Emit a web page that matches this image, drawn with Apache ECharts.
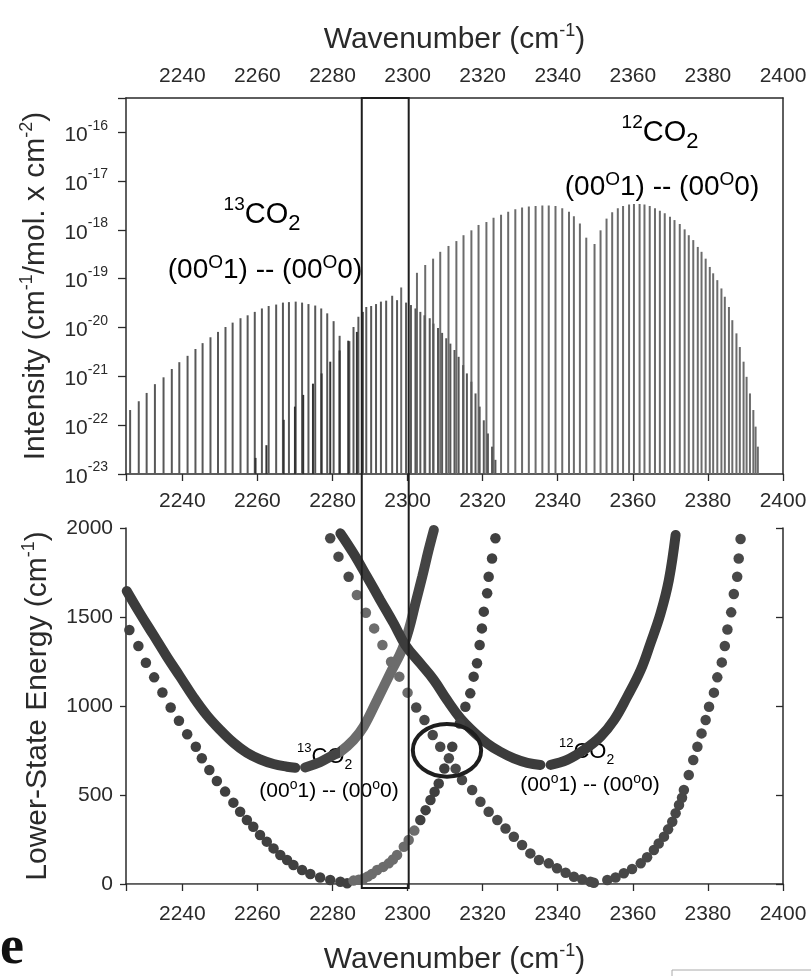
<!DOCTYPE html>
<html>
<head>
<meta charset="utf-8">
<script src="https://cdn.jsdelivr.net/npm/echarts@6/dist/echarts.min.js"></script>
<style>
html, body { margin: 0; padding: 0; background: #fff; }
#chart { width: 811px; height: 976px; }
</style>
</head>
<body>
<div id="chart"></div>
<script>
// 13CO2 谱线 (cm-1) 与 log10 强度
var co13Wn = [2226.1, 2228.4, 2230.5, 2232.7, 2235.0, 2237.2, 2239.2, 2241.4, 2243.5, 2245.4, 2247.5, 2249.5, 2251.5, 2253.4, 2255.5, 2257.4, 2259.3, 2261.2, 2263.0, 2265.0, 2266.8, 2268.4, 2270.2, 2271.9, 2273.6, 2275.4, 2277.0, 2278.6, 2280.3, 2281.9,
	2284.5, 2285.6, 2286.9, 2288.1, 2289.0, 2290.3, 2291.6, 2292.9, 2294.3, 2295.9, 2297.2, 2299.6, 2300.9, 2302.1, 2303.4, 2304.5, 2305.9, 2306.9, 2308.1, 2309.2, 2310.3, 2311.4, 2312.5, 2313.6, 2314.8, 2315.8, 2317.0, 2318.1, 2319.2, 2320.3, 2321.4, 2322.5, 2323.4];
var co13Log = [-21.69, -21.51, -21.34, -21.16, -21.02, -20.85, -20.71, -20.58, -20.44, -20.32, -20.20, -20.09, -19.99, -19.90, -19.81, -19.75, -19.68, -19.61, -19.56, -19.53, -19.49, -19.48, -19.47, -19.49, -19.52, -19.55, -19.61, -19.71, -19.87, -20.17,
	-20.28, -19.99, -19.78, -19.68, -19.58, -19.56, -19.52, -19.47, -19.45, -19.35, -19.44, -19.49, -19.54, -19.61, -19.68, -19.75, -19.81, -19.92, -20.01, -20.11, -20.22, -20.33, -20.46, -20.60, -20.77, -20.94, -21.11, -21.35, -21.62, -21.90, -22.17, -22.44, -22.71];

// 弱线 (热带)
var hotWn = [2259.5, 2262.4, 2267.0, 2270.0, 2272.2, 2274.8, 2277.1, 2279.4, 2281.9, 2284.2, 2286.5];
var hotLog = [-22.67, -22.41, -21.89, -21.62, -21.38, -21.15, -20.94, -20.70, -20.47, -20.27, -20.09];

// 12CO2 谱线
var co12Wn = [2298.3, 2302.5, 2304.7, 2306.8, 2308.7, 2310.9, 2313.0, 2314.9, 2317.0, 2318.9, 2321.0, 2322.9, 2324.9, 2326.8, 2328.7, 2330.5, 2332.3, 2334.1, 2335.9, 2337.6, 2339.4, 2341.2, 2343.0, 2344.3, 2345.9, 2347.6,
	2349.8, 2351.4, 2353.0, 2354.5, 2356.0, 2357.4, 2359.0, 2360.3, 2361.8, 2363.1, 2364.5, 2365.9, 2367.2, 2368.5, 2369.9, 2371.1, 2372.5, 2373.8, 2374.9, 2376.1, 2377.3, 2378.3, 2379.4, 2380.5, 2381.4, 2382.5, 2383.6, 2384.5, 2385.6, 2386.5, 2387.6, 2388.5, 2389.5, 2390.3, 2391.2, 2392.1, 2392.7, 2393.3];
var co12Log = [-19.18, -18.88, -18.72, -18.59, -18.45, -18.33, -18.23, -18.11, -18.01, -17.90, -17.84, -17.75, -17.69, -17.63, -17.58, -17.54, -17.52, -17.51, -17.50, -17.50, -17.51, -17.56, -17.63, -17.72, -17.87, -18.16,
	-18.29, -18.01, -17.77, -17.64, -17.56, -17.51, -17.48, -17.47, -17.47, -17.48, -17.51, -17.56, -17.61, -17.66, -17.73, -17.80, -17.88, -17.99, -18.11, -18.21, -18.35, -18.45, -18.59, -18.76, -18.89, -19.03, -19.20, -19.37, -19.58, -19.85, -20.12, -20.40, -20.70, -21.01, -21.35, -21.69, -22.03, -22.44];

// 下能级能量 (cm-1)
var co13HotPWn = [2225.2, 2228.7, 2232.3, 2235.9, 2239.4, 2242.9, 2246.5, 2250.1, 2253.6, 2257.2, 2260.7, 2264.3, 2267.9, 2270.1];
var co13HotPE = [1646, 1521, 1399, 1277, 1165, 1052, 949, 865, 794, 737, 700, 674, 659, 653];
var co13HotRWn = [2272.7, 2276.7, 2280.3, 2282.1, 2285.6, 2288.3, 2291.9, 2295.4, 2298.5, 2300.3, 2302.1, 2303.9, 2305.6, 2307.0];
var co13HotRE = [655, 685, 725, 743, 809, 884, 1034, 1184, 1315, 1427, 1577, 1726, 1876, 1989];
var co12HotPWn = [2282.1, 2285.6, 2289.2, 2292.7, 2296.3, 2299.4, 2303.4, 2307.0, 2310.5, 2314.1, 2317.6, 2321.2, 2324.7, 2328.3, 2331.9, 2335.4];
var co12HotPE = [1970, 1857, 1726, 1596, 1464, 1343, 1239, 1146, 1034, 930, 855, 790, 743, 706, 681, 669];
var co12HotRWn = [2338.1, 2342.5, 2347.0, 2351.4, 2355.0, 2358.5, 2362.1, 2364.7, 2367.4, 2369.6, 2371.4];
var co12HotRE = [669, 697, 753, 828, 921, 1052, 1202, 1352, 1521, 1708, 1961];

var co13FundWn = [2225.9, 2228.3, 2230.3, 2232.5, 2234.7, 2236.9, 2239.1, 2241.3, 2243.6, 2245.2, 2247.2, 2249.2, 2251.4, 2253.6, 2255.4, 2257.2, 2258.9, 2260.7, 2262.5, 2264.3, 2266.1, 2267.9, 2269.6, 2271.9, 2274.1, 2276.7, 2279.4, 2282.1,
	2283.9, 2285.6, 2287.0, 2288.3, 2289.4, 2290.5, 2291.9, 2293.5, 2295.0, 2296.1, 2297.2, 2299.0, 2300.3, 2301.8, 2303.4, 2304.8, 2306.1, 2307.2, 2308.3, 2309.8, 2311.9, 2313.9, 2315.4, 2316.7, 2317.6, 2318.5, 2319.2, 2319.8, 2320.3, 2321.2, 2321.6, 2322.5, 2323.4];
var co13FundE = [1427, 1337, 1243, 1161, 1076, 992, 917, 841, 771, 706, 640, 579, 519, 457, 406, 360, 322, 275, 238, 200, 163, 135, 107, 79, 56, 37, 22, 13,
	4, 19, 24, 31, 42, 56, 79, 96, 116, 138, 163, 209, 247, 300, 360, 415, 472, 518, 565, 649, 771, 902, 996, 1071, 1165, 1240, 1343, 1436, 1530, 1633, 1726, 1829, 1942];
var co12FundWn = [2279.4, 2281.6, 2284.3, 2286.5, 2288.9, 2291.1, 2293.3, 2295.6, 2297.8, 2300.0, 2302.3, 2304.5, 2306.7, 2308.7, 2311.0, 2312.8, 2314.5, 2317.2, 2319.4, 2321.6, 2323.9, 2326.1, 2328.3, 2330.5, 2332.7, 2335.0, 2337.6, 2339.8, 2342.1, 2344.3, 2346.5, 2348.7,
	2349.6, 2353.2, 2355.4, 2357.6, 2359.8, 2362.1, 2363.8, 2365.6, 2366.9, 2368.3, 2369.4, 2370.5, 2371.4, 2372.3, 2373.1, 2373.6, 2374.9, 2376.1, 2377.2, 2378.3, 2379.4, 2380.3, 2381.6, 2382.5, 2383.7, 2384.5, 2385.2, 2386.2, 2386.9, 2387.8, 2388.2, 2388.7];
var co12FundE = [1942, 1839, 1726, 1624, 1524, 1436, 1343, 1249, 1165, 1075, 992, 921, 837, 771, 706, 648, 584, 528, 462, 406, 360, 312, 265, 219, 172, 135, 116, 88, 63, 41, 26, 13,
	7, 22, 37, 60, 84, 116, 150, 191, 228, 266, 307, 350, 397, 444, 485, 528, 612, 697, 771, 846, 921, 996, 1075, 1161, 1245, 1337, 1430, 1526, 1629, 1726, 1829, 1938];

// 标注: 椭圆与竖框
var ellipseCenter = [2310.5, 751];
var ellipseRadius = [9.1, 148];
var boxWn = [2287.8, 2300.3];

var chart = echarts.init(document.getElementById('chart'));
var font = 'Liberation Sans';
var ink = '#2a2a2a';
var dark = '#3c3c3c';
var pale = '#6c6c6c';

function pairs(xs, ys) {
	var out = [];
	for (var i = 0; i < xs.length; i++) {
		out.push([xs[i], ys[i]]);
	}
	return out;
}

// 竖线谱
function stickItem(params, api) {
	var top = api.coord([api.value(0), api.value(1)]);
	var base = api.coord([api.value(0), -23]);
	return {
		type: 'line',
		shape: { x1: top[0], y1: base[1], x2: top[0], y2: top[1] },
		style: { stroke: api.visual('color'), lineWidth: 2 }
	};
}

function ellipseItem(params, api) {
	var c = api.coord([api.value(0), api.value(1)]);
	var s = api.size([api.value(2), api.value(3)]);
	return {
		type: 'ellipse',
		shape: { cx: c[0], cy: c[1], rx: s[0], ry: s[1] },
		style: { fill: 'none', stroke: '#1e1e1e', lineWidth: 4 }
	};
}

function wnLabel(v) {
	return v % 20 === 0 ? String(v) : '';
}

// 框内一段颜色较浅
function paleBand(seriesIndex, from, to, base) {
	return {
		type: 'piecewise', show: false, seriesIndex: seriesIndex, dimension: 0,
		pieces: [
			{ lt: from, color: base },
			{ gte: from, lt: to, color: pale },
			{ gte: to, color: base }
		]
	};
}

var supStyle = { fontFamily: font, fontSize: 18, color: ink, verticalAlign: 'top', lineHeight: 17 };
var titleStyle = { fontFamily: font, fontSize: 30, color: ink, lineHeight: 36 };

function wnAxis(grid, pos, labels, extra) {
	var a = {
		type: 'value', gridIndex: grid, position: pos, min: 2225, max: 2400,
		minInterval: 20, maxInterval: 20,
		splitLine: { show: false },
		axisLine: { lineStyle: { color: ink, width: 1.5 } },
		axisTick: { show: labels, length: 7, lineStyle: { color: ink, width: 1.3 } },
		axisLabel: { show: labels, fontFamily: font, fontSize: 21, color: ink, margin: 17, formatter: wnLabel }
	};
	for (var k in extra) a[k] = extra[k];
	return a;
}

var option = {
	animation: false,
	backgroundColor: '#fff',
	grid: [
		{ left: 126, top: 98, width: 657, height: 376 },
		{ left: 126, top: 528, width: 657, height: 356 }
	],
	visualMap: [
		paleBand(4, 2282, 2300, '#444'),
		paleBand(7, 2285, 2302, '#404040'),
		paleBand(8, 2285, 2301, '#484848')
	],
	xAxis: [
		wnAxis(0, 'bottom', true, {}),
		wnAxis(0, 'top', true, {
			axisTick: { show: false },
			axisLabel: { fontFamily: font, fontSize: 21, color: ink, margin: 11, formatter: wnLabel },
			name: '{t|Wavenumber (cm}{s|-1}{t|)}', nameLocation: 'middle', nameGap: 40,
			nameTextStyle: { rich: { t: titleStyle, s: supStyle } }
		}),
		wnAxis(1, 'bottom', true, {
			axisLabel: { fontFamily: font, fontSize: 21, color: ink, margin: 20, formatter: wnLabel },
			name: '{t|Wavenumber (cm}{s|-1}{t|)}', nameLocation: 'middle', nameGap: 58,
			nameTextStyle: { rich: { t: titleStyle, s: supStyle } }
		}),
		wnAxis(1, 'top', false, { axisLine: { lineStyle: { color: '#777', width: 1.2 } } })
	],
	yAxis: [
		{
			type: 'value', gridIndex: 0, position: 'left', min: -23, max: -15.3, interval: 1,
			splitLine: { show: false },
			axisLine: { lineStyle: { color: ink, width: 1.5 } },
			axisTick: { length: 8, lineStyle: { color: ink, width: 1.3 } },
			axisLabel: {
				margin: 18, fontFamily: font,
				formatter: function(v) {
					return v % 1 === 0 ? '{b|10}{s|' + v + '}' : '';
				},
				rich: {
					b: { fontFamily: font, fontSize: 21, color: ink, lineHeight: 27, verticalAlign: 'bottom' },
					s: { fontFamily: font, fontSize: 14, color: ink, lineHeight: 14, verticalAlign: 'top' }
				}
			},
			name: '{t|Intensity (cm}{s|-1}{t|/mol. x cm}{s|-2}{t|)}', nameLocation: 'middle', nameRotate: 90, nameGap: 72,
			nameTextStyle: { rich: { t: titleStyle, s: supStyle } }
		},
		{
			type: 'value', gridIndex: 0, position: 'right', min: -23, max: -15.3,
			splitLine: { show: false }, axisTick: { show: false }, axisLabel: { show: false },
			axisLine: { lineStyle: { color: ink, width: 1.5 } }
		},
		{
			type: 'value', gridIndex: 1, position: 'left', min: 0, max: 2000, interval: 500,
			splitLine: { show: false },
			axisLine: { lineStyle: { color: ink, width: 1.5 } },
			axisTick: { length: 6, lineStyle: { color: ink, width: 1.3 } },
			axisLabel: { margin: 13, fontFamily: font, fontSize: 21, color: ink, formatter: function(v) { return String(v); } },
			name: '{t|Lower-State Energy (cm}{s|-1}{t|)}', nameLocation: 'middle', nameRotate: 90, nameGap: 70,
			nameTextStyle: { rich: { t: titleStyle, s: supStyle } }
		},
		{
			type: 'value', gridIndex: 1, position: 'right', min: 0, max: 2000, interval: 500,
			splitLine: { show: false }, axisLabel: { show: false },
			axisLine: { lineStyle: { color: ink, width: 1.5 } },
			axisTick: { inside: true, length: 7, lineStyle: { color: ink, width: 1.3 } }
		}
	],
	series: [
		{ type: 'custom', name: '12CO2', xAxisIndex: 0, yAxisIndex: 0, renderItem: stickItem, clip: true,
			itemStyle: { color: '#6c6c6c' }, data: pairs(co12Wn, co12Log) },
		{ type: 'custom', name: '13CO2', xAxisIndex: 0, yAxisIndex: 0, renderItem: stickItem, clip: true,
			itemStyle: { color: '#585858' }, data: pairs(co13Wn, co13Log) },
		{ type: 'custom', name: 'hot', xAxisIndex: 0, yAxisIndex: 0, renderItem: stickItem, clip: true,
			itemStyle: { color: '#333' }, data: pairs(hotWn, hotLog) },

		{ type: 'line', xAxisIndex: 2, yAxisIndex: 2, smooth: 0.4, showSymbol: false, z: 3,
			lineStyle: { width: 10, color: dark, cap: 'round' }, data: pairs(co13HotPWn, co13HotPE) },
		{ type: 'line', xAxisIndex: 2, yAxisIndex: 2, smooth: 0.4, showSymbol: false, z: 3,
			lineStyle: { width: 10, cap: 'round' }, data: pairs(co13HotRWn, co13HotRE) },
		{ type: 'line', xAxisIndex: 2, yAxisIndex: 2, smooth: 0.4, showSymbol: false, z: 3,
			lineStyle: { width: 10, color: dark, cap: 'round' }, data: pairs(co12HotPWn, co12HotPE) },
		{ type: 'line', xAxisIndex: 2, yAxisIndex: 2, smooth: 0.4, showSymbol: false, z: 3,
			lineStyle: { width: 10, color: dark, cap: 'round' }, data: pairs(co12HotRWn, co12HotRE) },
		{ type: 'scatter', xAxisIndex: 2, yAxisIndex: 2, symbolSize: 10.5, z: 4,
			itemStyle: { opacity: 1 }, data: pairs(co13FundWn, co13FundE) },
		{ type: 'scatter', xAxisIndex: 2, yAxisIndex: 2, symbolSize: 10.5, z: 4,
			itemStyle: { opacity: 1 }, data: pairs(co12FundWn, co12FundE) },
		{ type: 'custom', xAxisIndex: 2, yAxisIndex: 2, renderItem: ellipseItem, z: 5,
			data: [[ellipseCenter[0], ellipseCenter[1], ellipseRadius[0], ellipseRadius[1]]] }
	]
};
chart.setOption(option);

// 竖框跨越两个坐标系
var bx0 = chart.convertToPixel({ xAxisIndex: 0 }, boxWn[0]);
var bx1 = chart.convertToPixel({ xAxisIndex: 0 }, boxWn[1]);
var by0 = chart.convertToPixel({ yAxisIndex: 0 }, -15.3);
var by1 = chart.convertToPixel({ yAxisIndex: 2 }, -22);

var bandRich = {
	b: { fontFamily: font, fontSize: 28, color: ink, lineHeight: 34 },
	o: { fontFamily: font, fontSize: 19, color: ink, lineHeight: 19, verticalAlign: 'top' }
};
var smallRich = {
	b: { fontFamily: font, fontSize: 21, color: ink, lineHeight: 26 },
	o: { fontFamily: font, fontSize: 14, color: ink, lineHeight: 14, verticalAlign: 'top' }
};
var isoRich = {
	s: { fontFamily: font, fontSize: 19, color: ink, lineHeight: 18, verticalAlign: 'top' },
	b: { fontFamily: font, fontSize: 29, color: ink, lineHeight: 40 },
	d: { fontFamily: font, fontSize: 22, color: ink, lineHeight: 24, verticalAlign: 'bottom' }
};
var isoSmallRich = {
	s: { fontFamily: font, fontSize: 13, color: ink, lineHeight: 13, verticalAlign: 'top' },
	b: { fontFamily: font, fontSize: 22, color: ink, lineHeight: 30 },
	d: { fontFamily: font, fontSize: 14, color: ink, lineHeight: 15, verticalAlign: 'bottom' }
};
var bandText = '{b|(00}{o|O}{b|1) -- (00}{o|O}{b|0)}';
var bandSmall = '{b|(00}{o|o}{b|1) -- (00}{o|o}{b|0)}';

chart.setOption({
	graphic: [
		{ type: 'text', x: 262, y: 215, z: 1, style: { text: '{s|13}{b|CO}{d|2}', rich: isoRich, align: 'center', verticalAlign: 'middle' } },
		{ type: 'text', x: 265, y: 270, z: 1, style: { text: bandText, rich: bandRich, align: 'center', verticalAlign: 'middle' } },
		{ type: 'text', x: 660, y: 133, z: 1, style: { text: '{s|12}{b|CO}{d|2}', rich: isoRich, align: 'center', verticalAlign: 'middle' } },
		{ type: 'text', x: 662, y: 187, z: 1, style: { text: bandText, rich: bandRich, align: 'center', verticalAlign: 'middle' } },
		{ type: 'text', x: 297, y: 757, z: 0, style: { text: '{s|13}{b|CO}{d|2}', rich: isoSmallRich, align: 'left', verticalAlign: 'middle' } },
		{ type: 'text', x: 329, y: 791, z: 0, style: { text: bandSmall, rich: smallRich, align: 'center', verticalAlign: 'middle' } },
		{ type: 'text', x: 559, y: 752, z: 0, style: { text: '{s|12}{b|CO}{d|2}', rich: isoSmallRich, align: 'left', verticalAlign: 'middle' } },
		{ type: 'text', x: 590, y: 785, z: 0, style: { text: bandSmall, rich: smallRich, align: 'center', verticalAlign: 'middle' } },
		{ type: 'text', x: 0, y: 976, z: 10, style: { text: 'e', font: 'bold 54px "Liberation Serif"', fill: '#111', align: 'left', verticalAlign: 'bottom' } },
		{ type: 'rect', z: 100, shape: { x: bx0, y: by0, width: bx1 - bx0, height: by1 - by0 },
			style: { fill: 'none', stroke: '#1e1e1e', lineWidth: 2 } },
		{ type: 'rect', z: 100, shape: { x: 672, y: 970, width: 150, height: 30 },
			style: { fill: 'none', stroke: '#aaa', lineWidth: 1 } }
	]
});
</script>
</body>
</html>
